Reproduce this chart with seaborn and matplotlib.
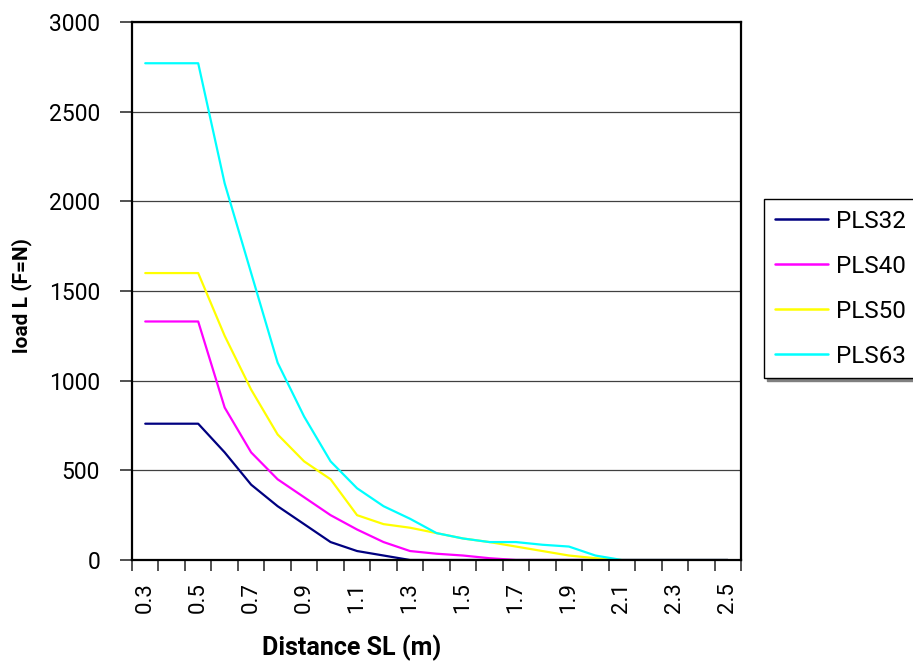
import matplotlib
matplotlib.use("Agg")
import matplotlib.pyplot as plt
import seaborn as sns
import pandas as pd
import numpy as np
from matplotlib.ticker import FixedLocator

# ---- data ----
distance = [0.3, 0.4, 0.5, 0.6, 0.7, 0.8, 0.9, 1.0, 1.1, 1.2, 1.3, 1.4,
            1.5, 1.6, 1.7, 1.8, 1.9, 2.0, 2.1, 2.2, 2.3, 2.4, 2.5]
pls32 = [760, 760, 760, 600, 420, 300, 200, 100, 50, 25, 0, 0,
         0, 0, 0, 0, 0, 0, 0, 0, 0, 0, 0]
pls40 = [1330, 1330, 1330, 850, 600, 450, 350, 250, 170, 100, 50, 35,
         25, 10, 0, 0, 0, 0, 0, 0, 0, 0, 0]
pls50 = [1600, 1600, 1600, 1250, 950, 700, 550, 450, 250, 200, 180, 150,
         120, 100, 75, 50, 25, 10, 0, 0, 0, 0, 0]
pls63 = [2770, 2770, 2770, 2100, 1600, 1100, 800, 550, 400, 300, 230, 150,
         120, 100, 100, 85, 75, 25, 0, 0, 0, 0, 0]
series_names = ["PLS32", "PLS40", "PLS50", "PLS63"]
series_colors = ["#000080", "#FF00FF", "#FFFF00", "#00FFFF"]
x_tick_labels = ["0.3", "0.5", "0.7", "0.9", "1.1", "1.3", "1.5", "1.7",
                 "1.9", "2.1", "2.3", "2.5"]
y_ticks = [0, 500, 1000, 1500, 2000, 2500, 3000]

frames = []
for name, vals in zip(series_names, [pls32, pls40, pls50, pls63]):
    frames.append(pd.DataFrame({"x": distance, "y": vals, "series": name}))
df = pd.concat(frames, ignore_index=True)

sns.set_theme(style="white")
plt.rcParams["font.family"] = ["Roboto", "DejaVu Sans"]
plt.rcParams["text.color"] = "black"
plt.rcParams["xtick.color"] = "black"
plt.rcParams["ytick.color"] = "black"

W, H = 913, 664
fig = plt.figure(figsize=(W / 100, H / 100), dpi=100)
ax = fig.add_axes([132 / W, 1 - 560 / H, (741 - 132) / W, (560 - 22) / H])

sns.lineplot(data=df, x="x", y="y", hue="series", palette=dict(zip(series_names, series_colors)),
             sort=False, linewidth=1.6, ax=ax, legend=True)

ax.set_xlim(0.25, 2.55)
ax.set_ylim(0, 3000)

# x ticks: labels at category centers, tick marks at category boundaries
ax.xaxis.set_major_locator(FixedLocator([float(t) for t in x_tick_labels]))
ax.set_xticklabels(x_tick_labels, rotation=90, fontsize=16)
ax.xaxis.set_minor_locator(FixedLocator(list(np.arange(0.25, 2.5501, 0.1))))
ax.tick_params(axis="x", which="major", length=0, pad=16)
ax.tick_params(axis="x", which="minor", length=8, width=1.2, color="#333333", direction="out", bottom=True)

ax.set_yticks(y_ticks)
ax.set_yticklabels([str(v) for v in y_ticks], fontsize=16.5)
ax.tick_params(axis="y", which="major", length=9, width=1.2, color="#333333", direction="out", pad=14, left=True)

ax.yaxis.grid(True, color="#404040", linewidth=0.9)
ax.xaxis.grid(False)
ax.set_axisbelow(True)

for s in ax.spines.values():
    s.set_visible(True)
    s.set_color("black")
    s.set_linewidth(1.6)

ax.set_xlabel("")
ax.set_ylabel("")
fig.text(22 / W, 1 - 296 / H, "load L (F=N)", fontsize=15, fontweight="bold",
         rotation=90, ha="center", va="center")
fig.text(352 / W, 1 - 648 / H, "Distance SL (m)", fontsize=18, fontweight="bold",
         ha="center", va="center")

leg = ax.legend(loc="upper left", bbox_to_anchor=(764 / W, 1 - 199 / H),
                bbox_transform=fig.transFigure, fontsize=17.5, frameon=True,
                fancybox=False, shadow={"color": "#808080", "alpha": 1},
                handlelength=2.2, handletextpad=0.3, borderpad=0.45,
                labelspacing=0.9, borderaxespad=0)
leg.get_frame().set_edgecolor("black")
leg.get_frame().set_linewidth(1.0)
for line in leg.get_lines():
    line.set_linewidth(1.8)

fig.savefig("out.png", dpi=100)
